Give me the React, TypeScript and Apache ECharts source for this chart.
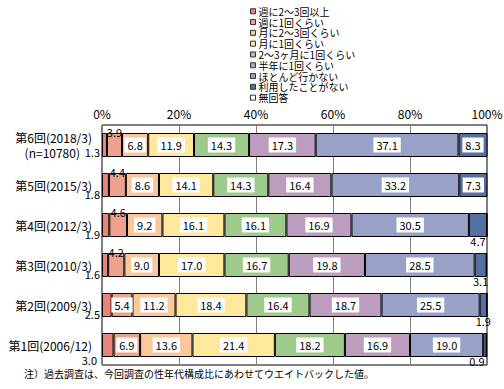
import React, { useEffect, useRef } from "react";
import * as echarts from "echarts";

const categories = [
  "第6回(2018/3)\n(n=10780)",
  "第5回(2015/3)",
  "第4回(2012/3)",
  "第3回(2010/3)",
  "第2回(2009/3)",
  "第1回(2006/12)",
];

const seriesNames = [
  "週に2～3回以上",
  "週に1回くらい",
  "月に2～3回くらい",
  "月に1回くらい",
  "2～3ヶ月に1回くらい",
  "半年に1回くらい",
  "ほとんど行かない",
  "利用したことがない",
  "無回答",
];

const weekly23 = [1.3, 1.8, 1.9, 1.6, 2.5, 3.0];
const weekly1 = [3.9, 4.4, 4.6, 4.2, 5.4, 6.9];
const monthly23 = [6.8, 8.6, 9.2, 9.0, 11.2, 13.6];
const monthly1 = [11.9, 14.1, 16.1, 17.0, 18.4, 21.4];
const every23Months = [14.3, 14.3, 16.1, 16.7, 16.4, 18.2];
const halfYear = [17.3, 16.4, 16.9, 19.8, 18.7, 16.9];
const rarely = [37.1, 33.2, 30.5, 28.5, 25.5, 19.0];
const never = [8.3, 7.3, 4.7, 3.1, 1.9, 0.9];
const noAnswer = [0, 0, 0, 0, 0, 0];

const xTickLabels = ["0%", "20%", "40%", "60%", "80%", "100%"];

const colors = [
  "#E9847A",
  "#EDA28E",
  "#FBC89C",
  "#FFE79C",
  "#9ECA8C",
  "#BC9DBD",
  "#99A1C7",
  "#566FA1",
  "#FFFFFF",
];

const note = "注）過去調査は、今回調査の性年代構成比にあわせてウエイトバックした値。";

const FONT = "'Noto Sans CJK JP', sans-serif";

const insideLabel = {
  show: true,
  position: "inside" as const,
  backgroundColor: "#FFFFFF",
  padding: [2, 3, 2, 3],
  color: "#000",
  fontSize: 11,
  fontFamily: FONT,
};

function makeItem(seriesIdx: number, rowIdx: number, v: number) {
  const fmt = v.toFixed(1);
  const base = { color: "#000", fontSize: 11, fontFamily: FONT, formatter: fmt };
  if (seriesIdx === 8) return { value: v, label: { show: false } };
  if (seriesIdx === 0) {
    return {
      value: v,
      label: {
        ...base,
        show: true,
        position: "left",
        distance: rowIdx === 5 ? 5 : 2,
        offset: rowIdx === 5 ? [0, 15] : rowIdx === 0 ? [0, 7] : [0, 9],
        align: "right",
      },
    };
  }
  if (seriesIdx === 1 && v < 5) {
    return {
      value: v,
      label: { ...base, show: true, position: "top", distance: -4 },
    };
  }
  if (seriesIdx === 7 && v < 5) {
    return {
      value: v,
      label: {
        ...base,
        show: true,
        position: "bottom",
        distance: -2,
        offset: v < 1 ? [-8, 0] : [0, 0],
      },
    };
  }
  return { value: v, label: { ...insideLabel, formatter: fmt } };
}

export default function App() {
  const ref = useRef<HTMLDivElement>(null);
  useEffect(() => {
    document.body.style.margin = "0";
    if (!ref.current) return;
    const chart = echarts.init(ref.current, null, { renderer: "svg" });
    const allData = [
      weekly23,
      weekly1,
      monthly23,
      monthly1,
      every23Months,
      halfYear,
      rarely,
      never,
      noAnswer,
    ];
    const series = allData.map((arr, si) => ({
      name: seriesNames[si],
      type: "bar",
      stack: "total",
      barWidth: 24,
      itemStyle: { color: colors[si], borderColor: "#000", borderWidth: 1 },
      emphasis: { disabled: true },
      data: arr.map((v, ri) => makeItem(si, ri, v)),
    }));
    chart.setOption({
      animation: false,
      textStyle: { fontFamily: FONT },
      grid: {
        left: 102,
        right: 17,
        top: 125,
        bottom: 24,
        containLabel: false,
        outerBoundsMode: "none",
        show: true,
        borderColor: "#000",
        borderWidth: 1,
        backgroundColor: "transparent",
      },
      legend: {
        orient: "vertical",
        left: 250,
        top: 6,
        padding: 0,
        itemWidth: 5,
        itemHeight: 5,
        itemGap: 0.3,
        icon: "rect",
        selectedMode: false,
        itemStyle: { borderColor: "#333", borderWidth: 1 },
        textStyle: {
          fontSize: 10,
          color: "#000",
          fontFamily: FONT,
          lineHeight: 10.5,
          padding: [0, 0, 0, -2],
        },
        data: seriesNames,
      },
      xAxis: {
        type: "value",
        position: "top",
        min: 0,
        max: 100,
        interval: 20,
        axisLine: { show: false },
        axisTick: { show: false },
        axisLabel: {
          color: "#000",
          fontSize: 12,
          fontFamily: FONT,
          margin: 6,
          formatter: (v: number) => xTickLabels[Math.round(v / 20)],
        },
        splitLine: { show: true, lineStyle: { color: "#808080", width: 1 } },
      },
      yAxis: {
        type: "category",
        inverse: true,
        data: categories,
        axisLine: { show: false },
        axisTick: { show: false },
        axisLabel: {
          color: "#000",
          fontSize: 12,
          fontFamily: FONT,
          margin: 10,
          align: "right",
          formatter: (v: string) => {
            const parts = v.split("\n");
            if (parts.length > 1) {
              return `{a|${parts[0]}}\n{b|${parts[1]}}`;
            }
            return `{a|${v}}`;
          },
          rich: {
            a: { fontSize: 12, color: "#000", fontFamily: FONT, lineHeight: 15 },
            b: {
              fontSize: 12,
              color: "#000",
              fontFamily: FONT,
              lineHeight: 15,
              padding: [0, 12, 0, 0],
            },
          },
        },
      },
      graphic: [
        {
          type: "text",
          left: 24,
          top: 368,
          style: {
            text: note,
            fontSize: 10,
            fill: "#000",
            fontFamily: FONT,
          },
        },
      ],
      series,
    });
    return () => chart.dispose();
  }, []);
  return <div ref={ref} style={{ width: 504, height: 389 }} />;
}
